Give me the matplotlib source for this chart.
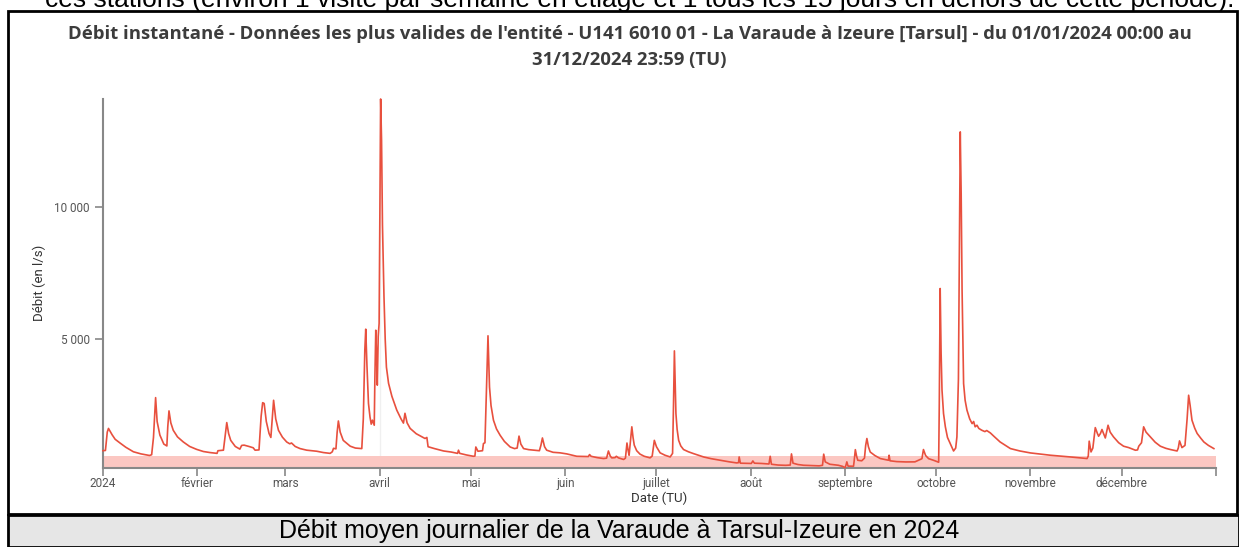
import numpy as np
import pandas as pd
import matplotlib
matplotlib.use('Agg')
import matplotlib.pyplot as plt
from matplotlib.patches import Rectangle

# Jours depuis le 01/01/2024 00:00 (TU) et débit en l/s
jours = [
    0.0, 0.8, 1.4, 1.8, 3.0, 4.0, 5.6, 7.5, 10.0, 12.5, 15.3, 16.0, 16.6, 17.3, 17.8, 18.7,
    20.0, 21.0, 21.3, 21.7, 22.3, 23.1, 24.5, 26.4, 28.5, 30.8, 33.0, 35.2, 37.5, 37.8, 39.6,
    40.2, 40.7, 41.3, 42.0, 43.5, 45.0, 45.6, 46.4, 48.0, 49.4, 50.0, 51.3, 52.0, 52.5, 53.0,
    53.7, 54.6, 55.2, 55.7, 56.1, 56.8, 57.7, 59.0, 60.4, 61.4, 62.0, 63.2, 64.8, 67.0, 70.3,
    72.5, 74.7, 75.4, 75.8, 76.6, 77.0, 77.4, 78.0, 79.0, 81.3, 83.0, 85.1, 85.6, 86.1, 86.4,
    86.8, 87.3, 87.8, 88.2, 88.6, 89.2, 89.4, 89.7, 90.0, 90.2, 90.5, 90.8, 91.0, 91.3, 91.6,
    91.9, 92.4, 92.8, 93.2, 93.9, 95.0, 96.6, 98.0, 98.8, 99.3, 100.0, 101.0, 103.0, 105.9,
    106.5, 106.9, 109.0, 112.0, 114.5, 116.6, 116.9, 117.3, 119.5, 121.8, 122.3, 122.6, 123.3,
    124.8, 125.1, 125.6, 126.2, 126.6, 127.1, 127.6, 128.4, 129.4, 130.6, 132.0, 133.9, 135.3,
    136.2, 136.8, 137.4, 138.3, 140.0, 141.6, 143.5, 144.0, 144.5, 145.2, 145.9, 148.0, 150.3,
    152.5, 155.8, 159.6, 160.0, 160.5, 162.5, 164.6, 165.6, 166.2, 166.8, 167.3, 168.4, 168.8,
    169.5, 171.2, 171.8, 172.3, 172.7, 173.0, 173.4, 173.9, 174.3, 174.7, 175.5, 176.6, 178.0,
    179.9, 180.6, 181.3, 182.0, 183.2, 184.8, 186.5, 187.3, 187.6, 187.9, 188.2, 188.4, 188.8,
    189.3, 190.0, 190.9, 192.5, 194.2, 197.5, 200.0, 203.0, 206.0, 208.4, 209.0, 209.2, 209.6,
    211.0, 213.2, 213.7, 214.2, 216.5, 219.0, 219.4, 219.8, 222.0, 224.5, 226.0, 226.4, 226.9,
    228.5, 230.4, 233.0, 235.5, 236.6, 237.0, 237.5, 239.0, 241.8, 243.2, 244.0, 244.3, 244.6,
    245.0, 246.8, 247.0, 247.4, 247.8, 248.2, 249.5, 250.4, 250.8, 251.2, 251.7, 252.3, 253.8,
    255.6, 257.0, 258.3, 258.5, 258.8, 261.0, 264.0, 267.0, 269.3, 269.8, 270.5, 271.5, 273.1,
    274.8, 275.0, 275.3, 275.6, 275.9, 276.4, 277.0, 277.7, 278.6, 279.7, 280.4, 280.8, 281.3,
    281.9, 282.2, 282.5, 283.0, 283.5, 284.1, 285.0, 285.8, 286.3, 286.8, 287.4, 288.0, 289.0,
    290.0, 290.6, 291.8, 293.0, 295.0, 296.8, 298.4, 301.5, 305.0, 311.5, 318.1, 323.6, 324.0,
    324.3, 324.9, 325.5, 326.3, 327.0, 327.4, 328.0, 328.5, 329.2, 329.6, 330.0, 330.5, 331.2,
    332.3, 334.0, 335.6, 337.3, 339.5, 340.2, 340.6, 341.5, 342.2, 343.0, 344.4, 346.0, 347.7,
    349.5, 351.0, 353.2, 353.6, 354.0, 354.8, 355.8, 356.5, 357.0, 357.5, 358.1, 359.0, 359.8,
    361.0, 362.0, 363.5, 365.3,
]
debit = [
    800, 810, 1500, 1640, 1400, 1230, 1090, 930, 760, 680, 620, 650, 1300, 2800, 1900, 1390,
    1050, 980, 1700, 2300, 1850, 1570, 1320, 1130, 960, 850, 770, 730, 700, 800, 820,
    1400, 1860, 1450, 1190, 960, 860, 1000, 1010, 960, 910, 820, 830, 2100, 2610, 2580,
    1900, 1450, 1300, 2100, 2700, 2000, 1570, 1310, 1130, 1060, 1090, 960, 880, 820, 780,
    730, 700, 760, 890, 870, 1500, 1920, 1500, 1190, 970, 900, 880, 2000, 4600, 5380,
    4000, 2580, 2070, 1800, 1950, 1760, 3500, 5340, 4200, 3270, 5100, 5600, 9000, 14050, 12500,
    9300, 6600, 5000, 3950, 3340, 2850, 2330, 2000, 1840, 2210, 1850, 1640, 1440, 1260,
    1300, 950, 880, 790, 750, 700, 820, 700, 640, 590, 600, 940, 780,
    800, 1070, 1100, 3500, 5130, 3200, 2500, 1950, 1620, 1380, 1150, 940, 880,
    900, 1350, 1050, 880, 840, 820, 800, 1000, 1280, 950, 820, 740, 720,
    680, 590, 580, 655, 590, 540, 505, 520, 790, 600, 530, 540, 590,
    530, 470, 520, 1090, 800, 630, 1100, 1700, 1300, 1010, 800, 670, 590,
    530, 600, 1190, 950, 720, 630, 565, 700, 2500, 4560, 3200, 2200, 1600,
    1190, 980, 845, 760, 690, 565, 500, 440, 380, 340, 350, 565, 330,
    325, 320, 415, 330, 320, 300, 590, 290, 260, 250, 260, 680, 330,
    280, 252, 240, 230, 250, 670, 380, 290, 252, 210, 160, 250, 380,
    220, 215, 400, 840, 600, 440, 420, 520, 1000, 1260, 950, 750, 620,
    505, 470, 441, 630, 420, 390, 377, 380, 500, 844, 620, 500, 440,
    366, 2500, 6910, 4500, 3080, 2200, 1700, 1300, 1070, 790, 900, 1320, 3500,
    12810, 10500, 6850, 3330, 2700, 2330, 2000, 1820, 1900, 1700, 1760, 1640, 1570,
    1520, 1560, 1470, 1340, 1130, 1000, 880, 790, 716, 630, 565, 505, 600,
    1160, 754, 900, 1670, 1450, 1345, 1450, 1600, 1400, 1280, 1500, 1760, 1500,
    1320, 1100, 970, 917, 818, 830, 970, 1100, 1700, 1500, 1320, 1120, 970,
    890, 845, 790, 900, 1170, 917, 1000, 2000, 2890, 2500, 1950, 1650, 1450,
    1270, 1130, 1000, 880,
]
seuil = 600  # haut de la bande rose

mois = ['2024', 'février', 'mars', 'avril', 'mai', 'juin', 'juillet', 'août',
        'septembre', 'octobre', 'novembre', 'décembre', '']
titre = ("Débit instantané - Données les plus valides de l'entité - U141 6010 01 - "
         "La Varaude à Izeure [Tarsul] - du 01/01/2024 00:00 au\n31/12/2024 23:59 (TU)")
legende = "Débit moyen journalier de la Varaude à Tarsul-Izeure en 2024"
texte_haut = ("ces stations (environ 1 visite par semaine en étiage et 1 tous les 15 jours "
              "en dehors de cette période).")

t = pd.Timestamp('2024-01-01') + pd.to_timedelta(jours, unit='D')
q = np.array(debit)

W, H = 1239, 547
fig = plt.figure(figsize=(W / 100, H / 100), dpi=100)

def px(x0, y0, x1, y1):
    return [x0 / W, 1 - y1 / H, (x1 - x0) / W, (y1 - y0) / H]

# cadre et bandeau de légende
fig.patches.append(Rectangle((8 / W, 1 - 514 / H), 1229 / W, 503 / H, transform=fig.transFigure,
                             fill=False, edgecolor='black', linewidth=2, zorder=0))
fig.patches.append(Rectangle((8 / W, 0), 1231 / W, 1 - 514 / H - 0.001, transform=fig.transFigure,
                             facecolor='#e6e6e6', edgecolor='black', linewidth=2, zorder=0))
fig.text(0.5, 1 - 531 / H, legende, ha='center', va='center', fontsize=18,
         family='Liberation Sans', color='black')
# ligne de texte du document, coupée en haut comme sur la capture
fig.text(0.5 + 20 / W, 1 - 7 / H, texte_haut, ha='center', va='baseline', fontsize=19,
         family='Liberation Sans', color='black')
fig.text(0.5 + 10 / W, 1 - 47 / H, titre, ha='center', va='center', fontsize=13.3,
         family='Open Sans', fontweight='bold', color='#3c3c3c', linespacing=1.6)

ax = fig.add_axes(px(103, 99, 1216, 467.7))
ax.set_xlim(pd.Timestamp('2024-01-01'), pd.Timestamp('2025-01-01'))
ax.set_ylim(q.min(), q.max())
ax.axhspan(q.min(), seuil, color='#fbc7c2', lw=0, zorder=1)
ax.axvline(pd.Timestamp('2024-04-01'), color='#f0f0f0', lw=1, zorder=0)
ax.plot(t, q, color='#e8503e', lw=1.2, zorder=3, clip_on=False)

ax.set_xticks(pd.date_range('2024-01-01', '2025-01-01', freq='MS'))
ax.set_xticklabels(mois)
ax.set_yticks([5000, 10000])
ax.set_yticklabels(['5 000', '10 000'])
for s in ['top', 'right']:
    ax.spines[s].set_visible(False)
for s in ['left', 'bottom']:
    ax.spines[s].set_color('#888888')
    ax.spines[s].set_linewidth(1.5)
ax.tick_params(colors='#888888', length=6, width=1.2, labelsize=8.5, labelcolor='#555555')
ax.tick_params(axis='x', pad=1)
for lab in ax.get_xticklabels() + ax.get_yticklabels():
    lab.set_family('Roboto')
ax.set_xlabel('Date (TU)', fontsize=9.5, family='Roboto', color='#333333', labelpad=1)
ax.set_ylabel('Débit (en l/s)', fontsize=9.5, family='Roboto', color='#333333', labelpad=6)

fig.savefig('out.png', dpi=100)
